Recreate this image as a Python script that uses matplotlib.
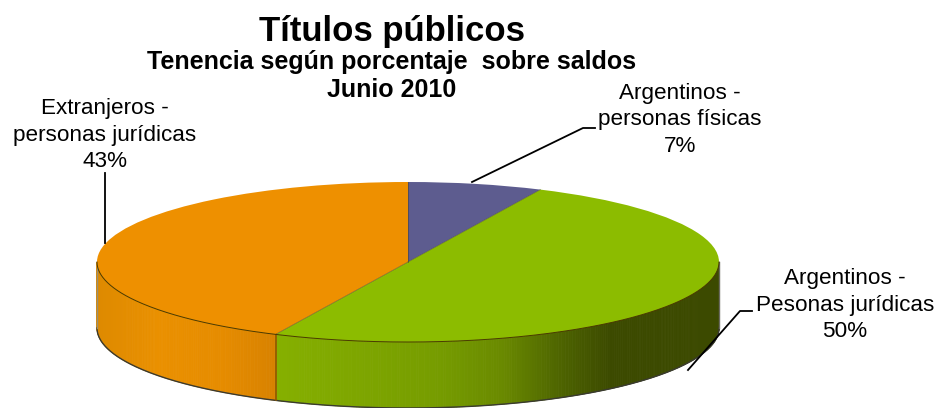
import numpy as np
import matplotlib
matplotlib.use('Agg')
import matplotlib.pyplot as plt

labels = ['Argentinos -\npersonas físicas\n7%', 'Argentinos -\nPesonas jurídicas\n50%', 'Extranjeros -\npersonas jurídicas\n43%']
shares = [7, 50, 43]
top_colors = ['#5D5C8F', '#8CBC00', '#EE9000']

plt.rcParams['font.family'] = ['Liberation Sans', 'DejaVu Sans']

W, H = 939, 408
CX, CY, RX, RY, DEPTH = 408, 262, 311, 80, 66


def px(x, y):
    # picture pixels to pie units
    return (x - CX) / RX, (CY - y) / RY


fig = plt.figure(figsize=(W / 100, H / 100), dpi=100)
ax = fig.add_axes([0, 0, 1, 1])

# side wall first, as thin strips along the front half of the rim
d = DEPTH / RY
edges = np.cumsum([0] + shares) / sum(shares) * 360
thetas = np.linspace(90, 270, 361)  # clockwise angle from the top
# shade stops along x (in pie units)
green_x = [-0.43, 0.1, 0.3, 0.5, 0.65, 1.0]
green_r = [0x86, 0x76, 0x6A, 0x4C, 0x3C, 0x3C]
green_g = [0xB0, 0x9C, 0x8A, 0x62, 0x4A, 0x4A]
orange_x = [-1.0, -0.8, -0.6, -0.43]
orange_r = [0xDE, 0xEA, 0xE6, 0xD8]
orange_g = [0x8A, 0x90, 0x8C, 0x82]
for a0, a1 in zip(thetas[:-1], thetas[1:]):
    mid = (a0 + a1) / 2
    x0, x1 = np.sin(np.radians([a0, a1]))
    y0, y1 = np.cos(np.radians([a0, a1]))
    xm = (x0 + x1) / 2
    if mid < edges[2]:
        c = (np.interp(xm, green_x, green_r) / 255, np.interp(xm, green_x, green_g) / 255, 0)
    else:
        c = (np.interp(xm, orange_x, orange_r) / 255, np.interp(xm, orange_x, orange_g) / 255, 0)
    ax.fill([x0, x1, x1, x0], [y0, y1, y1 - d, y0 - d], color=c, lw=0.6, zorder=1)

# dark rim lines
t = np.radians(thetas)
ax.plot(np.sin(t), np.cos(t) - d, color='#3a3a30', lw=1.0, zorder=2)
ax.plot(np.sin(t), np.cos(t), color='#4a3a00', lw=0.7, zorder=4)
ax.plot([-1, -1], [0, -d], color='#9a8f70', lw=1.0, zorder=2)
ax.plot([1, 1], [0, -d], color='#6a6a60', lw=1.0, zorder=2)
split = np.radians(edges[2])
ax.plot([np.sin(split)] * 2, [np.cos(split), np.cos(split) - d], color='#8a5a00', lw=1.2, zorder=2)

# top face
wedges, _ = ax.pie(shares, colors=top_colors, startangle=90, counterclock=False, radius=1,
                   wedgeprops={'linewidth': 0, 'zorder': 3})
ax.set_aspect('auto')
ax.set_xlim(px(0, 0)[0], px(W, 0)[0])
ax.set_ylim(px(0, H)[1], px(0, 0)[1])
ax.axis('off')

# thin dark seams on the top face
for e in edges[:3]:
    a = np.radians(e)
    ax.plot([0, np.sin(a)], [0, np.cos(a)], color='#3a3a20', lw=0.5, alpha=0.6, zorder=4)

# leader lines
leaders = [[(472, 182), (583, 128), (595, 128)],
           [(688, 370), (740, 311), (752, 311)],
           [(105, 243), (105, 173)]]
for pts in leaders:
    xy = np.array([px(*p) for p in pts])
    ax.plot(xy[:, 0], xy[:, 1], color='black', lw=1.3, zorder=5)


def txt(x, y, s, **kw):
    fig.text(x / W, 1 - y / H, s, ha='center', va='center', color='black', **kw)


txt(392, 31, 'Títulos públicos', fontsize=25, fontweight='bold')
txt(392, 62, 'Tenencia según porcentaje  sobre saldos', fontsize=18, fontweight='bold')
txt(392, 90, 'Junio 2010', fontsize=18, fontweight='bold')

label_pos = [(680, 120), (845, 305), (105, 135)]
for (x, y), s in zip(label_pos, labels):
    txt(x, y, s, fontsize=16.2, linespacing=1.32)

fig.savefig('out.png', dpi=100)
